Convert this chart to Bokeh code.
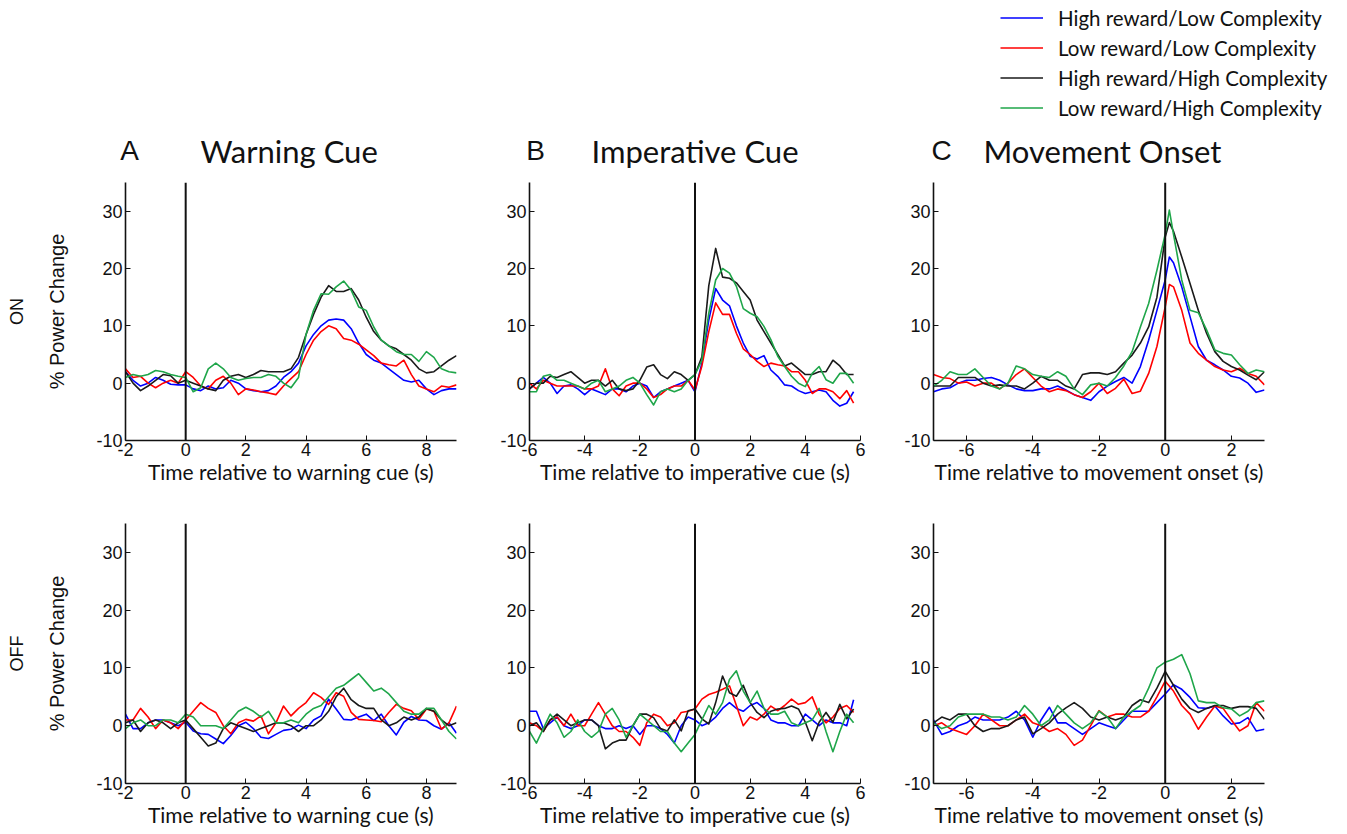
import math
from bokeh.plotting import figure
from bokeh.layouts import column, row
from bokeh.models import (Range1d, FixedTicker, Span, Label, Legend, LegendItem,
                          LinearAxis)
from bokeh.embed import file_html
from bokeh.resources import INLINE

# ---- condition names and colours -------------------------------------------
conditions = ["High reward/Low Complexity", "Low reward/Low Complexity",
              "High reward/High Complexity", "Low reward/High Complexity"]
colors = ["#0000ff", "#ff0000", "#1a1a1a", "#1fa64a"]

# ---- sample times (s) -------------------------------------------------------
t_warn = [-2.0 + 0.25 * i for i in range(45)]          # -2 .. 9
t_imp = [-6.0 + 0.25 * i for i in range(48)]           # -6 .. 5.75
t_mov_on = ([-7.0 + 0.25 * i for i in range(29)] + [0.125]
            + [0.25 + 0.25 * i for i in range(12)])     # -7 .. 3 (+ peak sample)
t_mov_off = [-7.0 + 0.25 * i for i in range(41)]       # -7 .. 3

# ---- % power change, ON medication ------------------------------------------
warn_on_hl = [2.0, 0.5, -0.5, 0.0, 1.0, 0.5, -0.2, -0.3, -0.3, -1.0, -1.3, -0.5, -1.0, -0.8, 0.5,
              0.0, -1.0, -1.3, -1.5, -1.3, -0.5, 1.0, 2.0, 3.5, 6.5, 8.5, 10.0, 11.0, 11.2, 11.0,
              9.5, 7.0, 5.0, 4.0, 3.5, 2.5, 1.5, 0.5, 0.2, 0.5, -1.0, -2.0, -1.3, -1.0, -1.0]
warn_on_ll = [2.5, 1.0, 1.2, 0.0, -0.8, 0.0, 0.5, 0.0, 2.0, 1.0, -0.5, -1.0, 0.5, 1.2, 0.0,
              -2.0, -1.0, -1.2, -1.5, -1.7, -2.0, -0.5, 0.8, 2.0, 5.0, 7.5, 9.0, 10.0, 9.5, 7.8,
              7.5, 6.8, 5.8, 4.8, 3.5, 3.2, 3.0, 4.0, 1.5, -0.5, -1.0, -1.5, -0.5, -0.7, -0.3]
warn_on_hh = [2.0, 0.0, -1.3, -0.5, 0.5, 1.5, 1.3, 0.0, 0.5, 0.0, -0.5, -1.0, -1.3, 0.5, 1.2,
              1.5, 1.0, 1.5, 2.2, 2.0, 2.0, 2.0, 2.5, 4.5, 8.5, 12.0, 15.0, 17.0, 16.0, 16.0,
              16.5, 14.5, 11.5, 9.0, 7.5, 6.5, 6.0, 5.0, 4.0, 2.5, 1.8, 2.0, 3.0, 4.0, 4.8]
warn_on_lh = [1.0, 1.5, 1.2, 1.5, 2.2, 2.0, 1.5, 1.2, 1.0, -1.5, -0.8, 2.5, 3.5, 2.5, 1.0,
              0.5, 0.8, 1.0, 1.0, 1.5, 1.2, 0.0, -0.8, 1.0, 8.5, 12.7, 15.6, 15.5, 16.8, 17.8,
              16.2, 13.3, 12.7, 9.8, 7.5, 6.5, 5.5, 5.0, 5.0, 3.8, 5.5, 4.5, 2.5, 2.0, 1.8]

imp_on_hl = [-1.0, 0.0, 1.0, 0.0, -1.8, -0.5, -0.3, -1.0, -2.0, -1.0, -1.5, -2.0, -1.0, -1.0, -1.5, -0.5,
             0.0, -0.5, -2.5, -1.5, -1.0, -0.5, 0.0, 0.5, -1.5, 3.5, 11.0, 16.5, 14.5, 13.5, 10.0, 7.0,
             4.7, 4.2, 4.8, 2.3, 1.2, -0.3, -0.5, -1.3, -1.8, -1.5, -1.2, -1.5, -3.0, -4.0, -3.5, -1.5]
imp_on_ll = [0.0, -1.0, 0.5, 0.0, -0.5, -0.5, -0.5, -0.5, -1.0, -1.0, -0.5, 2.5, -1.0, -2.2, -0.5, 0.0,
             0.0, -1.0, -2.5, -2.0, -1.0, -0.5, -0.5, 0.5, -1.2, 3.0, 9.0, 14.0, 12.0, 12.0, 8.7, 6.0,
             5.0, 3.8, 2.9, 3.5, 3.2, 3.0, 2.0, 2.0, 0.5, -1.8, -1.0, -1.0, -1.5, -2.7, -1.3, -3.5]
imp_on_hh = [-1.0, 0.0, 0.0, 1.2, 1.0, 1.5, 2.0, 1.0, 0.0, 0.5, 0.5, -0.5, 0.5, -1.0, -1.3, -1.0,
             0.5, 2.8, 3.2, 1.5, 0.8, 2.0, 1.5, 0.5, 1.5, 4.6, 17.0, 23.5, 18.5, 18.3, 17.5, 16.0,
             14.5, 11.0, 9.0, 7.0, 5.0, 3.0, 3.5, 2.5, 1.5, 1.5, 2.0, 2.0, 4.0, 3.0, 1.5, 1.5]
imp_on_lh = [-1.5, -1.5, 1.2, 1.5, 0.5, 0.5, 0.0, -0.5, -1.0, 0.0, 0.5, -1.5, -1.0, -0.5, 0.5, 1.0,
             0.0, -2.0, -3.8, -1.5, -1.0, -1.5, -1.0, 0.5, 1.5, 4.0, 12.2, 18.0, 20.0, 19.2, 16.9, 13.0,
             12.2, 11.6, 9.9, 7.6, 4.7, 2.9, 1.2, 0.0, -0.6, 1.7, 2.9, 0.6, 0.0, 1.7, 1.7, 0.0]

mov_on_hl = [-1.5, -1.0, -0.8, 0.0, 0.5, 0.5, 0.8, 1.0, 0.5, -0.3, -1.0, -1.3, -1.3, -1.0, -1.0,
             -0.5, -1.2, -2.0, -2.5, -3.0, -1.5, -0.5, 0.3, 1.0, 0.0, 2.9, 7.5, 12.7, 18.0, 22.0,
             21.0, 16.8, 11.6, 6.4, 4.0, 3.2, 2.3, 1.2, 0.9, 0.0, -1.6, -1.2]
mov_on_ll = [1.5, 1.0, 0.8, 0.0, 0.2, -0.5, 0.0, 0.0, -1.0, 0.0, 1.5, 2.5, 1.0, -0.5, -1.5,
             -1.0, -1.3, -2.0, -2.5, -1.5, 0.0, -1.8, -0.9, 0.7, -1.8, -1.4, 1.7, 6.4, 13.3, 17.2,
             16.8, 12.7, 7.0, 5.2, 4.0, 2.9, 2.3, 2.0, 2.6, 1.7, 1.2, -0.3]
mov_on_hh = [-0.5, -0.5, -0.5, 1.0, 1.0, 1.0, 0.0, -0.5, -0.3, -0.5, -0.5, -1.0, 0.0, 1.2, 0.5,
             0.5, -0.5, -1.0, 1.5, 1.8, 1.8, 1.5, 2.0, 3.5, 4.9, 7.0, 9.8, 15.0, 25.5, 28.0,
             26.5, 22.0, 17.4, 12.7, 8.7, 5.5, 3.8, 2.9, 2.3, 1.4, 0.6, 2.0]
mov_on_lh = [-0.5, 0.5, 2.0, 1.5, 1.5, 2.5, 1.0, -0.5, -1.0, 0.0, 3.0, 2.5, 1.5, 1.2, 1.0,
             2.0, 1.2, -1.0, -2.0, -0.3, 0.0, -0.5, 1.0, 3.0, 5.5, 9.8, 13.9, 19.7, 26.0, 30.2,
             26.0, 18.0, 12.7, 12.3, 9.3, 5.8, 5.2, 4.9, 3.2, 1.7, 2.3, 2.0]

# ---- % power change, OFF medication -----------------------------------------
warn_off_hl = [2.0, -0.5, -0.5, 0.5, 1.0, 1.0, 0.5, 0.0, 0.6, -0.9, -1.4, -1.5, -2.3, -3.1, -1.7,
               0.0, 0.6, -0.5, -2.0, -2.2, -1.5, -0.8, -0.6, 0.1, -0.5, 1.0, 1.7, 4.6, 2.9, 1.1,
               1.0, 1.5, 2.0, 0.9, 2.0, 0.0, -1.6, 0.6, 1.6, 1.0, 0.9, 0.0, -0.6, 0.5, -1.3]
warn_off_ll = [1.0, 1.0, 3.0, 1.5, -0.5, 1.0, 0.5, -0.5, 1.0, 2.5, 4.0, 3.0, 2.3, 0.0, -1.4,
               0.5, 1.1, 0.8, 1.7, -1.4, 0.5, 3.4, 1.7, 3.0, 4.0, 5.7, 4.9, 3.7, 5.7, 5.1,
               2.3, 1.1, 1.0, 0.9, 0.7, 2.3, 3.7, 3.0, 2.6, 1.1, 2.9, 2.5, -0.6, 0.5, 3.4]
warn_off_hh = [0.5, 1.0, -1.0, 0.5, 1.0, 0.5, -0.5, 0.5, 1.0, -0.5, -2.0, -3.5, -3.0, -0.5, 0.5,
               0.0, -0.5, -1.0, -0.5, 0.0, 0.5, 0.5, 0.0, -1.0, 0.0, 0.0, 1.0, 2.5, 5.0, 6.5,
               4.5, 3.5, 3.0, 3.0, 1.0, 0.0, 0.5, 1.5, 1.0, 1.5, 3.0, 2.5, 1.0, 0.0, 0.5]
warn_off_lh = [-0.5, 0.5, 1.0, 0.0, 0.0, 1.0, 1.0, 0.5, 2.0, 1.5, 0.0, 0.0, 0.0, -0.5, 1.0,
               2.5, 3.2, 2.5, 1.5, 2.5, 0.5, 0.5, 1.0, 0.5, 2.0, 3.0, 3.5, 5.0, 6.5, 7.0,
               8.0, 9.0, 7.5, 6.0, 6.5, 5.5, 4.0, 2.5, 2.0, 2.0, 3.0, 3.0, 1.0, -1.0, -2.3]

imp_off_hl = [2.5, 2.5, -0.5, 0.5, 1.5, 0.0, -0.5, 0.0, 1.0, 1.0, 0.0, -0.5, -0.5, 0.0, -0.5, 0.0,
              -1.5, 0.0, 0.0, -0.5, -1.5, -3.0, 0.0, 1.5, 1.0, 0.0, 0.5, 1.5, 3.0, 4.0, 3.0, 2.5,
              3.5, 4.0, 3.0, 1.0, 0.5, 0.5, 0.0, 0.0, 2.0, 1.0, 0.0, 1.0, 0.5, 0.5, 0.0, 4.5]
imp_off_ll = [0.5, 0.0, -1.0, 1.0, 1.5, 0.0, 2.0, 0.0, 0.0, 2.0, 4.0, 2.0, 0.0, -1.0, -1.0, -2.0,
              -3.4, 0.5, 2.0, 1.5, 0.0, 0.5, 2.3, 2.5, 2.9, 4.6, 5.4, 5.8, 6.3, 6.9, 3.5, 0.0,
              1.5, 1.0, 2.0, 3.4, 2.6, 3.5, 4.6, 3.7, 4.0, 5.0, 2.0, 0.5, 1.5, 3.0, 3.5, 2.3]
imp_off_hh = [0.0, 0.5, -1.0, 1.0, 2.0, 1.0, 0.0, 0.5, 1.0, 1.0, 0.0, -4.0, -3.0, -2.5, -2.5, 0.0,
              2.0, 2.0, 1.4, -0.5, -0.9, 1.0, -0.9, 2.6, 2.9, 1.2, 0.3, 4.0, 8.6, 5.7, 5.1, 7.0,
              4.0, 2.3, 1.4, 2.5, 2.9, 3.0, 3.4, 2.9, 0.6, -2.6, 0.6, 2.3, 0.6, 3.7, 1.2, 2.9]
imp_off_lh = [-1.0, -3.0, -0.5, 2.0, 0.5, -2.0, -1.0, 1.0, -1.0, -2.0, -1.0, 2.0, 3.0, 1.0, -2.0, 0.0,
              2.0, 1.0, 0.0, -1.0, -1.0, -3.0, -4.5, -3.0, -1.5, 1.0, 3.5, 2.0, 4.0, 8.0, 9.5, 6.0,
              4.0, 6.0, 3.0, 2.0, 2.0, 2.5, 0.5, 0.0, 0.5, 1.0, 3.0, -1.0, -4.5, -1.0, 2.0, 0.5]

mov_off_hl = [1.0, -1.5, -1.0, 0.0, 0.5, 1.5, 1.0, 1.0, 1.0, 1.5, 2.5, 1.0, -2.0, 1.0, 3.2,
              0.5, 0.5, -0.5, -1.5, -0.5, 0.5, 0.0, -0.5, 1.0, 2.5, 2.5, 2.5, 4.0, 5.5, 7.1,
              6.3, 4.9, 3.1, 3.0, 3.4, 1.7, 0.3, 0.5, 1.4, -0.9, -0.6]
mov_off_ll = [0.0, 0.5, -0.5, -1.0, -1.5, 0.0, 2.0, 1.0, 0.0, 0.0, 1.0, 2.0, 0.5, 0.0, -1.0,
              -0.5, -1.5, -3.4, -2.5, 0.0, 2.6, 1.5, 2.0, 2.0, 1.5, 1.5, 2.5, 5.0, 7.7, 6.0,
              3.5, 2.0, -0.6, 1.5, 3.4, 3.0, 1.0, -0.9, 0.0, 4.0, 2.5]
mov_off_hh = [0.5, 1.5, 1.0, 2.0, 2.0, 0.0, -1.0, -0.5, -0.5, 0.0, 1.0, 1.5, -1.4, -0.5, 0.5,
              2.0, 3.1, 4.0, 3.0, 1.5, 1.0, 1.5, 1.0, 1.5, 3.5, 4.5, 4.0, 6.5, 9.4, 7.0,
              4.6, 3.0, 2.3, 3.0, 3.5, 3.5, 3.0, 3.3, 3.3, 3.0, 1.1]
mov_off_lh = [0.5, -0.5, 0.0, 1.5, 2.0, 2.0, 2.0, 1.5, 1.5, 1.0, 1.5, 3.5, 2.0, 0.0, 1.0,
              3.5, 2.0, 0.5, -0.5, 0.5, 2.5, 1.5, -0.5, 1.5, 2.5, 3.5, 6.5, 10.0, 11.0, 11.5,
              12.3, 9.0, 4.3, 4.0, 4.0, 3.1, 2.9, 1.7, 2.5, 4.0, 4.3]

# ---- ticks and panel headings -----------------------------------------------
y_ticks = [-10, 0, 10, 20, 30]
x_ticks_warn = [-2, 0, 2, 4, 6, 8]
x_ticks_imp = [-6, -4, -2, 0, 2, 4, 6]
x_ticks_mov = [-6, -4, -2, 0, 2]
panel_letters = ["A", "B", "C"]
panel_names = ["Warning Cue", "Imperative Cue", "Movement Onset"]

TICK_FONT = "Liberation Sans"
TEXT_FONT = "Lato"
INK = "#111111"


def plain_labels(ticks):
    return {t: ("%d" % t) for t in ticks}


def panel(t, series, x_lo, x_hi, x_ticks, border_left, border_right,
          border_top, frame_h, border_bottom, xlabel, row_label=None):
    p = figure(frame_width=331, frame_height=frame_h,
               x_range=Range1d(x_lo, x_hi), y_range=Range1d(-10, 35),
               min_border_left=border_left, min_border_right=border_right,
               min_border_top=border_top, min_border_bottom=border_bottom,
               output_backend="svg", toolbar_location=None,
               background_fill_color="white", border_fill_color="white")
    p.outline_line_color = None
    p.grid.visible = False
    for ax, ticks in ((p.xaxis[0], x_ticks), (p.yaxis[0], y_ticks)):
        ax.ticker = FixedTicker(ticks=ticks)
        ax.major_label_overrides = plain_labels(ticks)
        ax.major_tick_in = 5
        ax.major_tick_out = 0
        ax.minor_tick_line_color = None
        ax.axis_line_width = 1.6
        ax.axis_line_color = INK
        ax.major_tick_line_color = INK
        ax.major_label_text_font = TICK_FONT
        ax.major_label_text_font_size = "18px"
        ax.major_label_text_color = INK
    p.xaxis.major_label_standoff = 2
    p.yaxis.major_label_standoff = 3

    p.xaxis.axis_label = xlabel
    p.xaxis.axis_label_text_font = TEXT_FONT
    p.xaxis.axis_label_text_font_size = "21px"
    p.xaxis.axis_label_text_font_style = "normal"
    p.xaxis.axis_label_text_color = INK
    p.xaxis.axis_label_standoff = 0

    if row_label is not None:
        p.yaxis.axis_label = "% Power Change"
        p.yaxis.axis_label_text_font = TICK_FONT
        p.yaxis.axis_label_text_font_size = "20px"
        p.yaxis.axis_label_text_font_style = "normal"
        p.yaxis.axis_label_text_color = INK
        p.yaxis.axis_label_standoff = 25
        side = LinearAxis(ticker=FixedTicker(ticks=[]), axis_label=row_label,
                          axis_line_color=None, major_tick_line_color=None,
                          minor_tick_line_color=None,
                          axis_label_text_font=TICK_FONT, axis_label_text_font_size="18px",
                          axis_label_text_font_style="normal", axis_label_text_color=INK,
                          axis_label_standoff=17)
        p.add_layout(side, "left")

    p.add_layout(Span(location=0, dimension="height", line_color=INK, line_width=2))

    for vals, col in zip(series, colors):
        p.line(t, vals, line_color=col, line_width=1.6, line_join="round")
    return p


# ---- heading strip: panel titles and the shared legend ----------------------
head = figure(width=1347, height=175, x_range=Range1d(0, 1347), y_range=Range1d(0, 175),
              x_axis_type=None, y_axis_type=None, min_border=0,
              output_backend="svg", toolbar_location=None)
head.outline_line_color = None
head.grid.visible = False
for letter, name, lx, nx in zip(panel_letters, panel_names, [129, 535, 941], [200, 591, 983]):
    head.add_layout(Label(x=lx, y=25, x_units="screen", y_units="screen", text=letter,
                          text_font=TICK_FONT, text_font_size="28px", text_align="center",
                          text_baseline="alphabetic", text_color=INK))
    head.add_layout(Label(x=nx, y=25, x_units="screen", y_units="screen", text=name,
                          text_font=TEXT_FONT, text_font_size="31px", text_align="left",
                          text_baseline="alphabetic", text_color=INK))
# key swatches: line renderers holding a single undefined sample, so only the legend shows them
key_lines = [head.line([float("nan")], [float("nan")], line_color=col, line_width=1.6)
             for col in colors]
legend = Legend(items=[LegendItem(label=name, renderers=[r]) for name, r in zip(conditions, key_lines)],
                location=(1000, 54), orientation="vertical",
                label_text_font=TEXT_FONT, label_text_font_size="20.5px",
                label_text_color=INK,
                glyph_width=43, glyph_height=27, label_height=27, label_standoff=15,
                spacing=3, padding=0, margin=0,
                background_fill_alpha=0, border_line_alpha=0)
head.add_layout(legend)

# ---- ON row ------------------------------------------------------------------
a1 = panel(t_warn, [warn_on_hl, warn_on_ll, warn_on_hh, warn_on_lh], -2, 9, x_ticks_warn,
           125, 34, 7, 258, 60, "Time relative to warning cue (s)", "ON")
b1 = panel(t_imp, [imp_on_hl, imp_on_ll, imp_on_hh, imp_on_lh], -6, 6, x_ticks_imp,
           39, 34, 7, 258, 60, "Time relative to imperative cue (s)")
c1 = panel(t_mov_on, [mov_on_hl, mov_on_ll, mov_on_hh, mov_on_lh], -7, 3, x_ticks_mov,
           39, 83, 7, 258, 60, "Time relative to movement onset (s)")

# ---- OFF row -----------------------------------------------------------------
a2 = panel(t_warn, [warn_off_hl, warn_off_ll, warn_off_hh, warn_off_lh], -2, 9, x_ticks_warn,
           125, 34, 23, 260, 51, "Time relative to warning cue (s)", "OFF")
b2 = panel(t_imp, [imp_off_hl, imp_off_ll, imp_off_hh, imp_off_lh], -6, 6, x_ticks_imp,
           39, 34, 23, 260, 51, "Time relative to imperative cue (s)")
c2 = panel(t_mov_off, [mov_off_hl, mov_off_ll, mov_off_hh, mov_off_lh], -7, 3, x_ticks_mov,
           39, 83, 23, 260, 51, "Time relative to movement onset (s)")

layout = column(head, row(a1, b1, c1), row(a2, b2, c2))

open("out.html", "w").write(file_html(layout, INLINE))
